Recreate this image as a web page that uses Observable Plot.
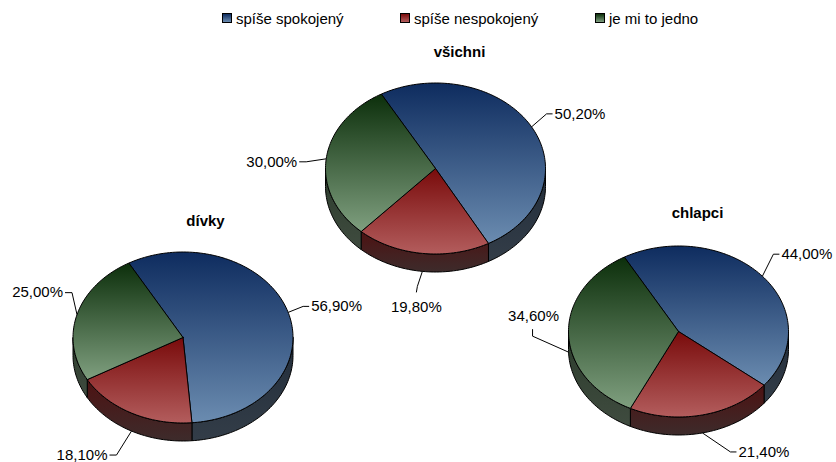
<!DOCTYPE html>
<html>
<head>
<meta charset="utf-8">
<script src="https://cdn.jsdelivr.net/npm/d3@7"></script>
<script src="https://cdn.jsdelivr.net/npm/@observablehq/plot@0.6"></script>
<style>
  body { margin: 0; background: #fff; font-family: "Liberation Sans", Arial, sans-serif; }
  #legend { position: relative; width: 836px; height: 34px; font-size: 15px; color: #000; }
  .item { position: absolute; top: 9px; height: 18px; display: flex; align-items: center; white-space: nowrap; }
  .sw { width: 8px; height: 8px; border: 1px solid #000; margin-right: 4px; }
  #chart svg { display: block; }
</style>
</head>
<body>
<div id="legend"></div>
<div id="chart"></div>
<script>
// ---- data ----
const groups = ["všichni", "dívky", "chlapci"];
const categories = ["spíše spokojený", "spíše nespokojený", "je mi to jedno"];
const vsichni = [50.2, 19.8, 30.0];
const divky = [56.9, 18.1, 25.0];
const chlapci = [44.0, 21.4, 34.6];
const seriesByGroup = {"všichni": vsichni, "dívky": divky, "chlapci": chlapci};

// ---- layout & style ----
const W = 836, H = 462, LEG = 34;
const pieLayout = [
  {cx: 435, cy: 168, tx: 459, ty: 52},
  {cx: 182.5, cy: 337, tx: 205, ty: 221},
  {cx: 678, cy: 331, tx: 697, ty: 213}
];
const RX = 110, RY = 85.5, DEPTH = 18, START = -29.5;
// leader elbow offsets from slice anchor, and side where label sits
const leaderLayout = [
  [[15, -13, "right"], [-5, 15, "down"], [-20, 3, "left"]],
  [[15, -6, "right"], [-15, 24, "left"], [-5, -22, "left"]],
  [[11, -22, "right"], [28, 19, "right"], [-36, -16, "up"]]
];
const topColors = [["#0e2c5f", "#6b8cb0"], ["#790b0b", "#b35d5d"], ["#0c2f0b", "#7f9f7f"]];
const wallColors = [["#222d3a", "#333d48"], ["#4d1212", "#3d2b2b"], ["#2c3c2c", "#3f4b3f"]];
const legendLeft = [222, 400, 595];

// ---- legend ----
const legend = document.getElementById("legend");
categories.forEach((c, i) => {
  const it = document.createElement("div");
  it.className = "item";
  it.style.left = legendLeft[i] + "px";
  const sw = document.createElement("div");
  sw.className = "sw";
  sw.style.background = `linear-gradient(to bottom, ${topColors[i][0]}, ${topColors[i][1]})`;
  it.appendChild(sw);
  const t = document.createElement("span");
  t.textContent = c;
  it.appendChild(t);
  legend.appendChild(it);
});

// ---- geometry ----
const deg = Math.PI / 180;
const fmt = v => v.toFixed(2).replace(".", ",") + "%";
function pt(p, a, dy = 0) {
  return {x: p.cx + RX * Math.sin(a * deg), y: p.cy - RY * Math.cos(a * deg) + dy};
}
function arc(p, a0, a1, dy = 0) {
  const n = Math.max(2, Math.ceil(Math.abs(a1 - a0) / 1.5));
  return d3.range(n + 1).map(j => pt(p, a0 + (a1 - a0) * j / n, dy));
}

const wallMarks = [], topMarks = [], leaderRows = [], labelRows = [], titleRows = [];
groups.forEach((g, k) => {
  const p = pieLayout[k];
  const vals = seriesByGroup[g];
  const arcs = d3.pie().sort(null).startAngle(START * deg).endAngle((START + 360) * deg)(vals);
  titleRows.push({x: p.tx, y: p.ty, text: g});
  arcs.forEach((s, i) => {
    const a0 = s.startAngle / deg, a1 = s.endAngle / deg;
    // top face
    const top = [{x: p.cx, y: p.cy}, ...arc(p, a0, a1)];
    top.push(top[0]);
    topMarks.push(Plot.line(top, {x: "x", y: "y", fill: `url(#top${i})`, stroke: "#000", strokeWidth: 1, curve: "linear"}));
    // front wall
    const w0 = Math.max(a0, 90), w1 = Math.min(a1, 270);
    if (w0 < w1) {
      const wall = [...arc(p, w0, w1), ...arc(p, w1, w0, DEPTH)];
      wall.push(wall[0]);
      wallMarks.push(Plot.line(wall, {x: "x", y: "y", fill: `url(#wall${i})`, stroke: "#000", strokeWidth: 1, curve: "linear"}));
    }
    // label
    const m = (a0 + a1) / 2;
    const anc = pt(p, m, Math.cos(m * deg) < 0 ? DEPTH : 0);
    const [ex, ey, side] = leaderLayout[k][i];
    const el = {x: anc.x + ex, y: anc.y + ey};
    let end, lab;
    if (side === "right") { end = {x: el.x + 6, y: el.y}; lab = {x: end.x + 2, y: end.y, anchor: "start"}; }
    else if (side === "left") { end = {x: el.x - 7, y: el.y}; lab = {x: end.x - 2, y: end.y, anchor: "end"}; }
    else if (side === "down") { end = {x: el.x - 1, y: el.y + 6}; lab = {x: end.x, y: end.y + 15, anchor: "middle"}; }
    else { end = {x: el.x, y: el.y - 7}; lab = {x: end.x + 1, y: end.y - 13, anchor: "middle"}; }
    const id = `${k}-${i}`;
    [anc, el, end].forEach(q => leaderRows.push({...q, id}));
    labelRows.push({...lab, text: fmt(vals[i])});
  });
});

const plot = Plot.plot({
  width: W,
  height: H - LEG,
  margin: 0,
  x: {domain: [0, W], range: [0, W], axis: null},
  y: {domain: [LEG, H], range: [0, H - LEG], axis: null},
  style: {fontFamily: "'Liberation Sans', Arial, sans-serif", background: "#fff", overflow: "visible"},
  marks: [
    ...wallMarks,
    ...topMarks,
    Plot.line(leaderRows, {x: "x", y: "y", z: "id", stroke: "#000", strokeWidth: 1, strokeLinejoin: "miter", strokeLinecap: "butt"}),
    ...["start", "end", "middle"].map(a =>
      Plot.text(labelRows.filter(d => d.anchor === a), {x: "x", y: "y", text: "text", textAnchor: a, fontSize: 15, fill: "#000"})
    ),
    Plot.text(titleRows, {x: "x", y: "y", text: "text", fontSize: 15, fontWeight: "bold", fill: "#000"})
  ]
});

// gradient definitions
const defs = d3.select(plot).insert("defs", ":first-child");
function grad(id, c0, c1) {
  const lg = defs.append("linearGradient").attr("id", id).attr("x1", 0).attr("y1", 0).attr("x2", 0).attr("y2", 1);
  lg.append("stop").attr("offset", "0%").attr("stop-color", c0);
  lg.append("stop").attr("offset", "100%").attr("stop-color", c1);
}
topColors.forEach((c, i) => grad(`top${i}`, c[0], c[1]));
wallColors.forEach((c, i) => grad(`wall${i}`, c[0], c[1]));

document.getElementById("chart").appendChild(plot);
</script>
</body>
</html>
